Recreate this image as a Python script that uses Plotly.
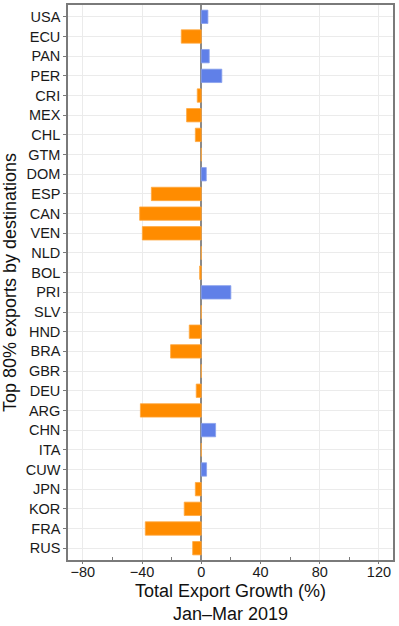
import plotly.graph_objects as go

countries = ["USA", "ECU", "PAN", "PER", "CRI", "MEX", "CHL", "GTM", "DOM", "ESP",
             "CAN", "VEN", "NLD", "BOL", "PRI", "SLV", "HND", "BRA", "GBR", "DEU",
             "ARG", "CHN", "ITA", "CUW", "JPN", "KOR", "FRA", "RUS"]
growth = [4.5, -13.5, 5.4, 13.9, -2.7, -9.9, -4.0, 0.0, 3.4, -33.7,
          -41.6, -39.8, 0.0, -1.1, 20.0, 0.0, -8.1, -20.7, 0.0, -3.4,
          -41.1, 9.7, 0.0, 3.6, -4.0, -11.5, -37.8, -5.8]
x_ticks = [-80, -40, 0, 40, 80, 120]

POS = "#6080e8"
NEG = "#ff8c00"
colors = [POS if v > 0 else NEG for v in growth]
edge = ["#8aa2ee" if v > 0 else "#ffa840" for v in growth]

fig = go.Figure(go.Bar(
    x=growth, y=countries, orientation="h",
    marker=dict(color=colors, line=dict(color=edge, width=0.8)),
    width=0.68,
))

FONT = "Liberation Sans, Arial, Helvetica, sans-serif"
GRID = "#ebebeb"
BORDER = "#7a7a7a"

fig.update_layout(
    width=399, height=626,
    margin=dict(l=68, r=6, t=5, b=66),
    paper_bgcolor="white", plot_bgcolor="white",
    font=dict(family=FONT, color="#1a1a1a", size=14.5),
    showlegend=False,
)

fig.update_xaxes(
    automargin=False,
    range=[-90, 129.5],
    tickvals=x_ticks,
    tickfont=dict(size=14.5, color="#1a1a1a"),
    showgrid=True, gridcolor=GRID, gridwidth=1,
    zeroline=True, zerolinecolor="#8a8a8a", zerolinewidth=1.5,
    showline=True, linecolor=BORDER, linewidth=1.5, mirror=True,
    ticks="outside", ticklen=2, tickcolor=BORDER,
    ticklabelstandoff=-4,
    minor=dict(tickvals=[-60, -20, 20, 60, 100], ticks="inside", ticklen=3,
               tickcolor=BORDER, showgrid=False),
    title=dict(text="Total Export Growth (%)<br>Jan–Mar 2019",
               font=dict(size=18, color="#111111"), standoff=5),
)

fig.update_yaxes(
    automargin=False,
    categoryorder="array", categoryarray=countries,
    autorange=False, range=[len(countries) - 0.4, -0.6],
    tickfont=dict(size=14.5, color="#1a1a1a"),
    showgrid=True, gridcolor=GRID, gridwidth=1,
    showline=True, linecolor=BORDER, linewidth=1.5, mirror=True,
    ticks="outside", ticklen=3, tickcolor=BORDER,
    title=dict(text="Top 80% exports by destinations",
               font=dict(size=18, color="#111111"), standoff=6),
)

fig.write_html("out.html", config={"displayModeBar": False},
               post_script="document.body.style.margin='0';")
